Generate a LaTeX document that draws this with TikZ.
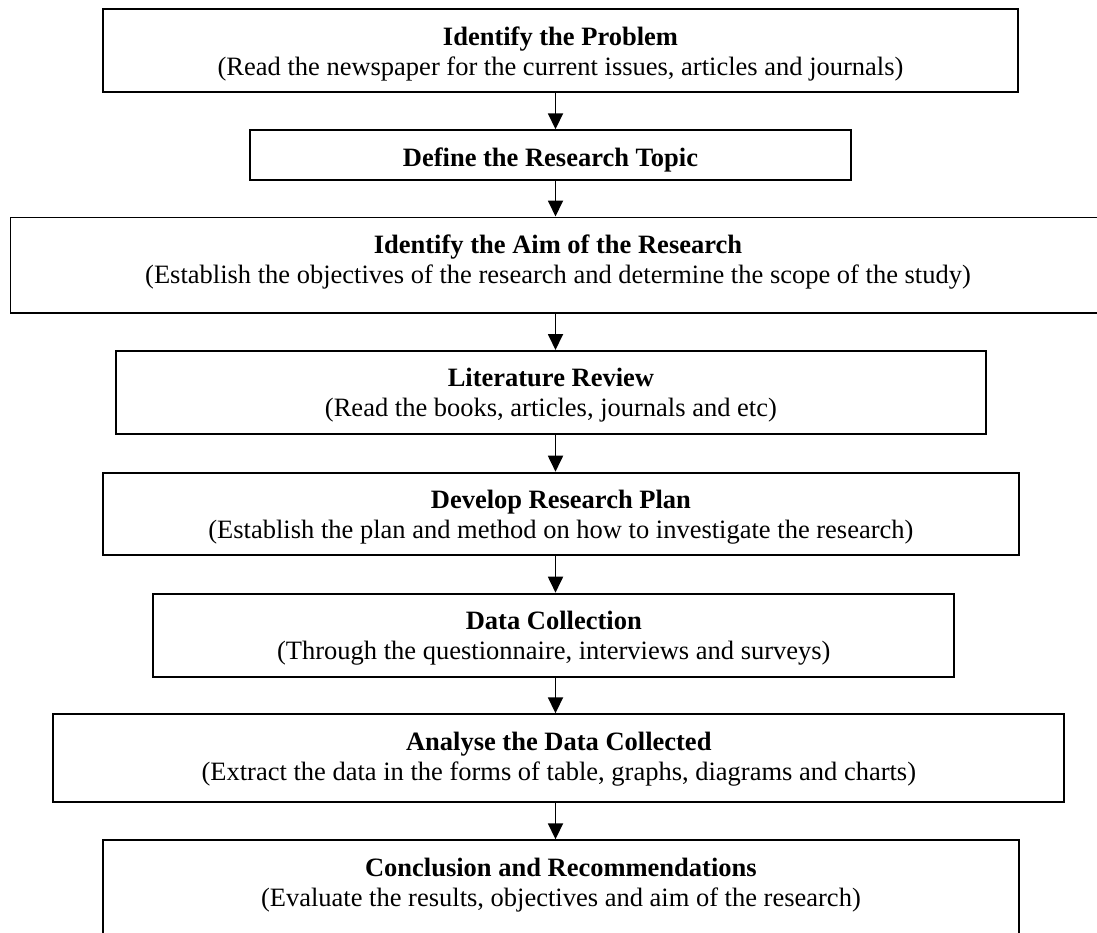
\documentclass[tikz,border=0pt]{standalone}
\usepackage{fontspec}
\setmainfont{Liberation Serif}
\usepackage{tikz}
\usetikzlibrary{arrows.meta}

\begin{document}
\begin{tikzpicture}[x=1pt,y=-1pt,
  stage/.style={draw, line width=1.8pt, rectangle, anchor=north, inner sep=0pt,
    align=center, font=\fontsize{26.5}{30}\selectfont, text height=66pt},
  flow/.style={line width=1.8pt, -{Triangle[length=16pt,width=15pt]}}]

\useasboundingbox (0,0) rectangle (1097,932);

% boxes
\node[stage, minimum width=915.6pt, text depth=16.4pt] (problem) at (560.5,8.3)
  {\textbf{Identify the Problem}\\(Read the newspaper for the current issues, articles and journals)};
\node[stage, minimum width=601pt, text height=36pt, text depth=13.7pt] (topic) at (550.5,129.3)
  {\textbf{Define the Research Topic}};
\node[stage, minimum width=1095pt, text depth=29.2pt] (aim) at (558,216.5)
  {\textbf{Identify the Aim of the Research}\\(Establish the objectives of the research and determine the scope of the study)};
\node[stage, minimum width=870.3pt, text depth=16.7pt] (review) at (550.9,350)
  {\textbf{Literature Review}\\(Read the books, articles, journals and etc)};
\node[stage, minimum width=916.3pt, text depth=16.6pt] (plan) at (560.9,471.7)
  {\textbf{Develop Research Plan}\\(Establish the plan and method on how to investigate the research)};
\node[stage, minimum width=801pt, text depth=17pt] (collect) at (553.8,592.7)
  {\textbf{Data Collection}\\(Through the questionnaire, interviews and surveys)};
\node[stage, minimum width=1011pt, text depth=21.7pt] (analyse) at (558.8,713.3)
  {\textbf{Analyse the Data Collected}\\(Extract the data in the forms of table, graphs, diagrams and charts)};
\node[stage, minimum width=916.3pt, text depth=34pt] (conclude) at (560.9,839.3)
  {\textbf{Conclusion and Recommendations}\\(Evaluate the results, objectives and aim of the research)};

% arrows
\coordinate (spine) at (555.5,0);
\draw[flow] (problem.south -| spine) -- (topic.north -| spine);
\draw[flow] (topic.south -| spine) -- (aim.north -| spine);
\draw[flow] (aim.south -| spine) -- (review.north -| spine);
\draw[flow] (review.south -| spine) -- (plan.north -| spine);
\draw[flow] (plan.south -| spine) -- (collect.north -| spine);
\draw[flow] (collect.south -| spine) -- (analyse.north -| spine);
\draw[flow] (analyse.south -| spine) -- (conclude.north -| spine);

\end{tikzpicture}
\end{document}
